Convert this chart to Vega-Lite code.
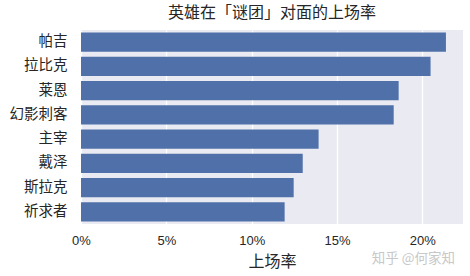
{
  "$schema": "https://vega.github.io/schema/vega-lite/v6.json",
  "width": 382,
  "height": 194,
  "autosize": {"type": "none"},
  "padding": {"left": 81, "top": 30, "right": 7, "bottom": 52},
  "background": "#ffffff",
  "config": {
    "view": {"fill": "#EAEAF2", "stroke": null},
    "font": "Noto Sans CJK SC"
  },
  "title": {
    "text": "英雄在「谜团」对面的上场率",
    "fontSize": 16,
    "fontWeight": "normal",
    "color": "#262626",
    "font": "Noto Sans CJK SC",
    "offset": 9,
    "anchor": "middle"
  },
  "datasets": {
    "heroes": [
      {"hero": "帕吉", "rate": 0.2138},
      {"hero": "拉比克", "rate": 0.2048},
      {"hero": "莱恩", "rate": 0.1861},
      {"hero": "幻影刺客", "rate": 0.1832},
      {"hero": "主宰", "rate": 0.1392},
      {"hero": "戴泽", "rate": 0.1299},
      {"hero": "斯拉克", "rate": 0.1246},
      {"hero": "祈求者", "rate": 0.1193}
    ],
    "mark": [
      {"label": "知乎 @何家知", "hero": "祈求者"}
    ]
  },
  "layer": [
    {
      "data": {"name": "heroes"},
      "mark": {"type": "bar", "color": "#5070A9"},
      "encoding": {
        "y": {
          "field": "hero",
          "type": "nominal",
          "sort": ["帕吉", "拉比克", "莱恩", "幻影刺客", "主宰", "戴泽", "斯拉克", "祈求者"],
          "scale": {"paddingInner": 0.2, "paddingOuter": 0.1},
          "axis": {
            "title": null,
            "domain": false,
            "ticks": false,
            "labelFontSize": 14.5,
            "labelColor": "#262626",
            "labelPadding": 14,
            "labelFont": "Noto Sans CJK SC"
          }
        },
        "x": {
          "field": "rate",
          "type": "quantitative",
          "scale": {"domain": [0, 0.2238], "nice": false, "zero": true},
          "axis": {
            "title": "上场率",
            "titleFontSize": 16,
            "titleFontWeight": "normal",
            "titleColor": "#262626",
            "titlePadding": 6,
            "titleFont": "Noto Sans CJK SC",
            "format": ".0%",
            "values": [0, 0.05, 0.1, 0.15, 0.2],
            "domain": false,
            "ticks": false,
            "labelFlush": false,
            "labelFontSize": 13,
            "labelColor": "#262626",
            "labelFont": "Liberation Sans",
            "labelPadding": 10,
            "grid": true,
            "gridColor": "#ffffff",
            "gridWidth": 1.3,
            "gridOpacity": 1
          }
        }
      }
    },
    {
      "data": {"name": "mark"},
      "mark": {
        "type": "text",
        "align": "right",
        "baseline": "middle",
        "dy": 47,
        "fontSize": 13.5,
        "color": "#c8c8c8",
        "font": "Noto Sans CJK SC"
      },
      "encoding": {
        "x": {"datum": 0.2191, "type": "quantitative"},
        "y": {
          "field": "hero",
          "type": "nominal",
          "sort": ["帕吉", "拉比克", "莱恩", "幻影刺客", "主宰", "戴泽", "斯拉克", "祈求者"]
        },
        "text": {"field": "label"}
      }
    }
  ]
}
